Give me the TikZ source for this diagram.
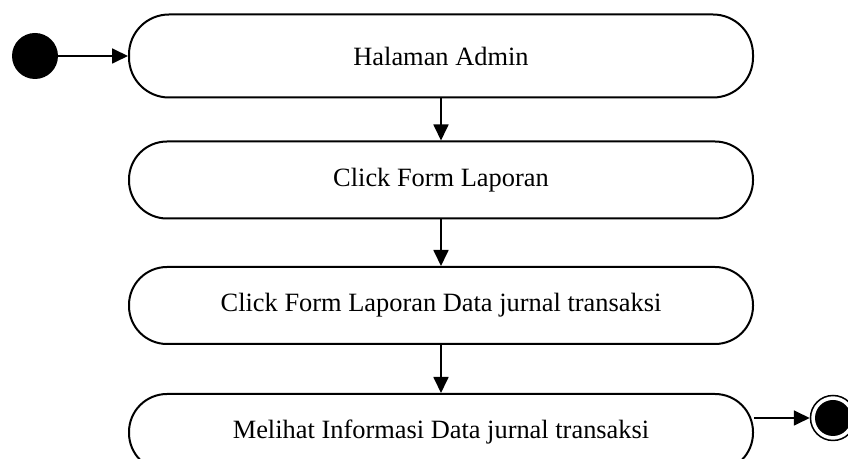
\documentclass[tikz,border=0pt]{standalone}
\usepackage{fontspec}
\setmainfont{Liberation Serif}
\usetikzlibrary{arrows.meta}
\begin{document}
\begin{tikzpicture}[x=0.5pt,y=-0.5pt,
  act/.style={draw, line width=1pt, rounded corners=19pt, minimum width=312pt,
    minimum height=38.5pt, inner sep=0pt, font=\fontsize{13.2pt}{15pt}\selectfont},
  act1/.style={act, minimum height=41.5pt, rounded corners=20pt},
  flow/.style={-{Triangle[length=8pt,width=7.5pt]}, line width=0.9pt},
  startnode/.style={circle, fill=black, minimum size=23pt, inner sep=0pt},
  endring/.style={circle, draw, line width=0.75pt, minimum size=22.5pt, inner sep=0pt},
  enddot/.style={circle, fill=black, minimum size=18pt, inner sep=0pt}]
\useasboundingbox (0,0) rectangle (848,459);
\node[startnode] (start) at (35,56) {};
\node[act1] (b1) at (441,56) {Halaman Admin};
\node[act] (b2) at (441,180) {Click Form Laporan};
\node[act] (b3) at (441,305.5) {Click Form Laporan Data jurnal transaksi};
\node[act] (b4) at (441,432.5) {Melihat Informasi Data jurnal transaksi};
\node[endring] (endc) at (833,418) {};
\node[enddot] (enddot) at (endc) {};
\draw[flow] (start) -- (b1);
\draw[flow] (b1) -- (b2);
\draw[flow] (b2) -- (b3);
\draw[flow] (b3) -- (b4);
\draw[flow] (b4.east |- endc) -- (endc);
\end{tikzpicture}
\end{document}
